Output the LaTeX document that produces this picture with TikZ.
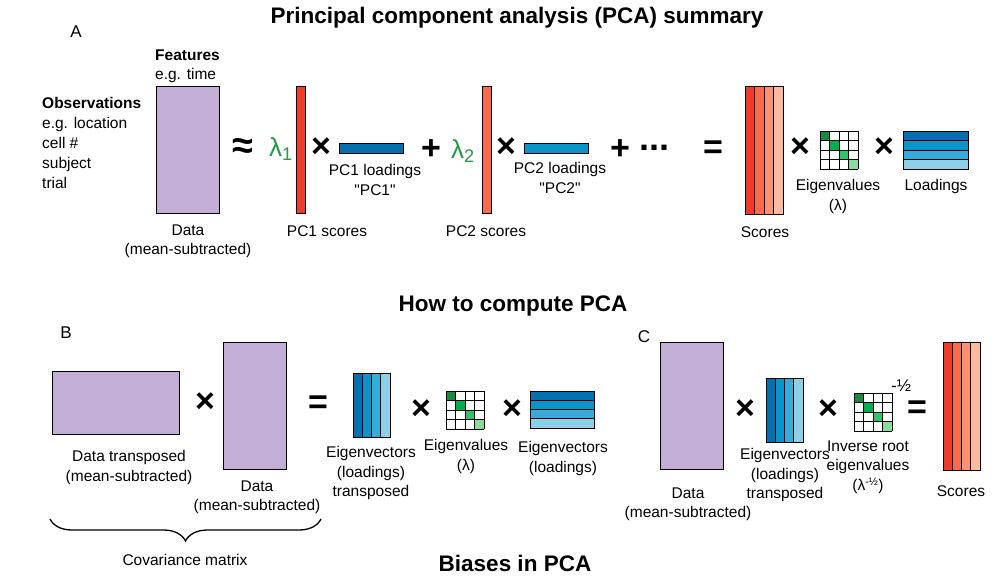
\documentclass[tikz,border=0pt]{standalone}
\usepackage{fontspec}
\setmainfont{Liberation Sans}
\usetikzlibrary{decorations.pathreplacing}

\definecolor{dataPurple}{HTML}{C3AED6}
\definecolor{redA}{HTML}{F03B2B}
\definecolor{redB}{HTML}{FB6A4A}
\definecolor{redC}{HTML}{FC9272}
\definecolor{redD}{HTML}{FCBBA1}
\definecolor{blueA}{HTML}{0570B0}
\definecolor{blueB}{HTML}{0A94CA}
\definecolor{blueC}{HTML}{35ACDA}
\definecolor{blueD}{HTML}{8ECEE6}
\definecolor{grnA}{HTML}{1A8A3E}
\definecolor{grnB}{HTML}{00AE50}
\definecolor{grnC}{HTML}{2FC56C}
\definecolor{grnD}{HTML}{8ADB9D}
\definecolor{lamGreen}{HTML}{239A45}

% 4x4 eigenvalue grid, top-left corner at (#1,#2)
\newcommand{\eiggrid}[2]{%
  \foreach \i/\c in {0/grnA,1/grnB,2/grnC,3/grnD}
    \fill[\c] ({#1+\i*9.5},{#2+\i*9.5}) rectangle ++(9.5,9.5);
  \foreach \i in {0,...,4} {
    \draw[line width=0.8pt] ({#1+\i*9.5},#2) -- ++(0,38);
    \draw[line width=0.8pt] (#1,{#2+\i*9.5}) -- ++(38,0);
  }
}
% vertical strips (scores, eigenvectors transposed)
\newcommand{\colstrips}[5]{%
  \foreach \c [count=\i from 0] in {#5}
    \filldraw[fill=\c, draw=black, line width=1pt] ({#1+\i*#3/4},#2) rectangle ++({#3/4},#4);
}
% horizontal strips (loadings)
\newcommand{\rowstrips}[5]{%
  \foreach \c [count=\i from 0] in {#5}
    \filldraw[fill=\c, draw=black, line width=1pt] (#1,{#2+\i*#4/4}) rectangle ++(#3,{#4/4});
}

\tikzset{
  lbl/.style={font=\fontsize{15.5}{19.5}\selectfont, align=center, inner sep=0pt, anchor=north},
  sym/.style={font=\fontsize{34}{34}\selectfont\bfseries, inner sep=0pt},
  lam/.style={font=\fontsize{26}{26}\selectfont, text=lamGreen, inner sep=0pt},
  heading/.style={font=\fontsize{22.5}{22.5}\selectfont\bfseries, inner sep=0pt},
  panel/.style={font=\fontsize{17}{17}\selectfont, inner sep=0pt},
  datamat/.style={fill=dataPurple, draw=black, line width=1pt}
}

\begin{document}
\begin{tikzpicture}[x=1pt,y=-1pt]
\useasboundingbox (0,0) rectangle (1004,586);

% Part A: summary
\node[heading] (title1) at (517,18) {Principal component analysis (PCA) summary};
\node[panel] (labA) at (76,32) {A};

\node[font=\fontsize{15.5}{19.5}\selectfont, align=left, anchor=north west, inner sep=0pt] (feat) at (155,49.5)
  {\textbf{Features}\\e.g. time};
\node[font=\fontsize{15.5}{19.8}\selectfont, align=left, anchor=north west, inner sep=0pt] (obs) at (42,97.5)
  {\textbf{Observations}\\e.g. location\\cell \#\\subject\\trial};

\filldraw[datamat] (156,86) rectangle (219,213);
\node[lbl] (dataA) at (188,224.5) {Data\\(mean-subtracted)};

\node[sym, font=\fontsize{38}{38}\selectfont\bfseries] (approx) at (243,148) {≈};
\node[lam] (lam1) at (281,149) {λ\textsubscript{1}};
\filldraw[fill=redA, line width=1pt] (296,86) rectangle (305,213);
\node[lbl] (pc1s) at (327,225.5) {PC1 scores};
\node[sym] (x1) at (321,148) {×};
\filldraw[fill=blueA, line width=1pt] (339,143) rectangle (403,153);
\node[lbl] (pc1l) at (375,164.5) {PC1 loadings\\\textquotedbl PC1\textquotedbl};

\node[sym] (plus1) at (431,150) {+};
\node[lam] (lam2) at (463,151) {λ\textsubscript{2}};
\filldraw[fill=redB, line width=1pt] (482,86) rectangle (491,213);
\node[lbl] (pc2s) at (486,225.5) {PC2 scores};
\node[sym] (x2) at (506,148) {×};
\filldraw[fill=blueB, line width=1pt] (524,143) rectangle (588,153);
\node[lbl] (pc2l) at (560,162.5) {PC2 loadings\\\textquotedbl PC2\textquotedbl};

\node[sym] (plus2) at (620,150) {+};
\node[sym, font=\fontsize{36}{36}\selectfont\bfseries] (dots) at (654,148) {...};
\node[sym] (eqA) at (713,150) {=};

\colstrips{745}{86}{38}{128}{redA,redB,redC,redD}
\node[lbl] (scoresA) at (765,226.5) {Scores};
\node[sym] (x3) at (800,148) {×};
\eiggrid{820}{131}
\node[lbl] (eigA) at (838,179.5) {Eigenvalues\\(λ)};
\node[sym] (x4) at (884,148) {×};
\rowstrips{903}{131}{65}{38}{blueA,blueB,blueC,blueD}
\node[lbl] (loadA) at (936,179.5) {Loadings};

% Part B: how to compute
\node[heading] (title2) at (513,306) {How to compute PCA};
\node[panel] (labB) at (66,333) {B};

\filldraw[datamat] (52,371) rectangle (179,434);
\node[lbl] (dataT) at (129,450.5) {Data transposed\\(mean-subtracted)};
\node[sym] (x5) at (205,403) {×};
\filldraw[datamat] (223,342) rectangle (286,469);
\node[lbl] (dataB) at (257,480.5) {Data\\(mean-subtracted)};
\node[sym] (eqB) at (318,405) {=};

\colstrips{353}{373}{37}{64}{blueA,blueB,blueC,blueD}
\node[lbl] (evecT) at (371,446.5) {Eigenvectors\\(loadings)\\transposed};
\node[sym] (x6) at (421,410) {×};
\eiggrid{446}{391}
\node[lbl] (eigB) at (466,439.5) {Eigenvalues\\(λ)};
\node[sym] (x7) at (512,410) {×};
\rowstrips{530}{391}{64}{37}{blueA,blueB,blueC,blueD}
\node[lbl] (evecB) at (563,441.5) {Eigenvectors\\(loadings)};

\draw[line width=1.3pt, decorate, decoration={brace, mirror, amplitude=22pt}] (50,519) -- (321,519);
\node[lbl] (cov) at (185,554.5) {Covariance matrix};

% Part C
\node[panel] (labC) at (644,337) {C};
\filldraw[datamat] (660,342) rectangle (723,469);
\node[lbl] (dataC) at (688,487.5) {Data\\(mean-subtracted)};
\node[sym] (x8) at (745,410) {×};
\colstrips{766}{378}{37}{64}{blueA,blueB,blueC,blueD}
\node[lbl] (evecC) at (785,448.5) {Eigenvectors\\(loadings)\\transposed};
\node[sym] (x9) at (828,410) {×};
\eiggrid{854}{393}
\node[font=\fontsize{17}{17}\selectfont, inner sep=0pt] (invexp) at (901,386) {-½};
\node[lbl] (invC) at (868,440.5) {Inverse root\\eigenvalues\\(λ\textsuperscript{-½})};
\node[sym] (eqC) at (917,410) {=};
\colstrips{943}{342}{37}{128}{redA,redB,redC,redD}
\node[lbl] (scoresC) at (961,485.5) {Scores};

\node[heading] (title3) at (515,563) {Biases in PCA};
\end{tikzpicture}
\end{document}
